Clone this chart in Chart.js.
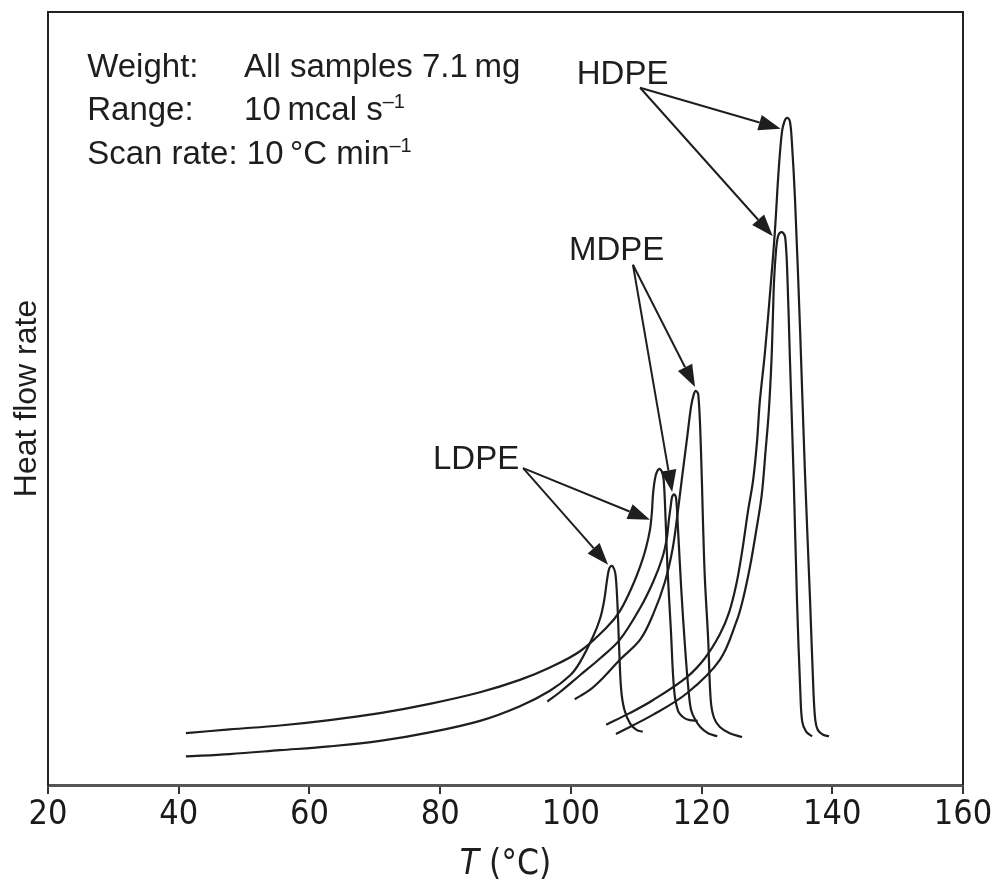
<!DOCTYPE html>
<html>
<head>
<meta charset="utf-8">
<script src="https://cdn.jsdelivr.net/npm/chart.js@4.4.1/dist/chart.umd.min.js"></script>
<style>
  html, body { margin: 0; padding: 0; background: #fff; }
</style>
</head>
<body>
<canvas id="dsc" width="995" height="884"></canvas>
<script>
// DSC melting curves of polyethylenes: T in degC, heat flow in arbitrary units (0..100 = plot height)
var xTicks = [20, 40, 60, 80, 100, 120, 140, 160];

// LDPE, lower baseline, peak near 106 C
var ldpe1T = [41.1, 47.8, 55.5, 63.1, 70.8, 78.4, 86.1, 92.2, 96.8, 99.9, 101.4, 103.4, 104.5, 105.1, 105.5, 105.8, 106.1, 106.4, 106.8, 107.1, 107.4, 107.7, 108.2, 109.1, 110.1, 111.0];
var ldpe1Y = [3.7, 4.0, 4.5, 5.0, 5.7, 6.8, 8.3, 10.2, 12.2, 14.2, 15.9, 19.2, 21.6, 23.9, 26.3, 27.8, 28.3, 28.3, 27.4, 23.9, 17.5, 12.3, 9.7, 7.9, 7.1, 6.9];

// LDPE, upper baseline, peak near 113.5 C
var ldpe2T = [41.1, 47.8, 55.5, 63.1, 70.8, 78.4, 86.1, 92.2, 96.8, 101.4, 105.5, 107.5, 109.5, 110.7, 111.5, 112.1, 112.4, 112.6, 113.0, 113.5, 113.9, 114.2, 114.5, 114.8, 115.3, 115.8, 116.4, 117.3, 118.2, 119.4];
var ldpe2Y = [6.7, 7.2, 7.7, 8.4, 9.3, 10.5, 12.0, 13.6, 15.2, 17.3, 20.4, 22.5, 25.9, 28.5, 30.7, 33.0, 35.3, 37.9, 40.1, 40.9, 40.6, 39.5, 34.3, 27.8, 20.1, 12.3, 9.6, 8.7, 8.4, 8.3];

// MDPE, peak near 115.5 C
var mdpe1T = [96.4, 98.3, 101.4, 104.5, 107.5, 110.6, 112.6, 114.0, 114.7, 115.0, 115.3, 115.5, 115.8, 116.1, 116.4, 116.9, 117.5, 118.0, 118.4, 119.0, 119.8, 121.0, 122.4];
var mdpe1Y = [10.8, 12.0, 14.2, 16.4, 18.8, 22.9, 26.3, 29.4, 32.0, 34.3, 36.2, 37.3, 37.6, 37.1, 33.0, 25.2, 17.5, 12.3, 9.7, 8.5, 7.5, 6.7, 6.3];

// MDPE, peak near 119 C
var mdpe2T = [100.6, 102.9, 105.2, 107.5, 110.6, 112.6, 114.4, 115.6, 116.4, 117.0, 117.8, 118.4, 118.8, 119.1, 119.5, 119.9, 120.2, 120.5, 121.0, 121.4, 121.9, 122.8, 124.3, 126.2];
var mdpe2Y = [11.1, 12.3, 14.1, 16.2, 18.8, 22.1, 26.3, 30.7, 35.6, 39.7, 45.0, 49.0, 50.5, 51.0, 50.5, 43.5, 34.5, 26.8, 19.0, 11.0, 8.7, 7.5, 6.7, 6.2];

// HDPE, lower peak near 132 C
var hdpe1T = [106.9, 112.6, 117.8, 122.8, 125.4, 126.3, 127.4, 128.3, 129.2, 129.8, 130.3, 130.7, 130.9, 131.1, 131.4, 131.7, 132.1, 132.5, 132.8, 133.1, 133.5, 134.1, 134.6, 135.1, 135.4, 136.0, 136.9];
var hdpe1Y = [6.6, 9.1, 11.9, 16.2, 21.3, 23.9, 28.2, 32.6, 37.5, 43.3, 48.5, 55.0, 60.2, 65.4, 69.2, 71.0, 71.5, 71.4, 70.8, 66.6, 55.6, 39.5, 23.9, 12.3, 8.2, 6.9, 6.3];

// HDPE, tall peak near 133 C
var hdpe2T = [105.4, 109.0, 112.6, 117.8, 120.5, 122.8, 124.2, 125.3, 126.2, 127.1, 127.9, 128.5, 128.9, 129.7, 130.6, 131.2, 131.8, 132.3, 132.7, 133.1, 133.5, 133.8, 134.3, 135.1, 135.8, 136.6, 137.1, 137.4, 137.8, 138.6, 139.5];
var hdpe2Y = [7.8, 9.3, 11.0, 14.0, 16.4, 19.5, 22.3, 25.9, 30.2, 35.4, 39.5, 44.6, 49.5, 56.0, 64.9, 71.4, 79.6, 84.5, 85.9, 86.3, 85.9, 83.4, 75.7, 58.2, 40.8, 23.9, 12.5, 8.4, 7.1, 6.5, 6.3];

// labels and arrows, in data units (T, heat flow)
var polyLabels = [
    { text: 'HDPE', x: 100.9, y: 90.7 },
    { text: 'MDPE', x: 99.7, y: 67.9 },
    { text: 'LDPE', x: 78.9, y: 40.9 }
];
var arrows = [
    { from: [110.6, 90.2], to: [132.1, 84.9] },
    { from: [110.6, 90.2], to: [130.9, 71.0] },
    { from: [109.5, 67.3], to: [119.0, 51.5] },
    { from: [109.5, 67.3], to: [115.5, 37.9] },
    { from: [92.7, 41.0], to: [112.1, 34.3] },
    { from: [92.7, 41.0], to: [105.7, 28.5] }
];
// run conditions (left edge T, baseline heat flow)
var infoLines = [
    { x: 26.0, y: 91.6, parts: [{ t: 'Weight:' }] },
    { x: 50.0, y: 91.6, parts: [{ t: 'All samples 7.1\u2009mg' }] },
    { x: 26.0, y: 86.0, parts: [{ t: 'Range:' }] },
    { x: 50.0, y: 86.0, parts: [{ t: '10\u2009mcal s' }, { t: '\u20131', sup: true }] },
    { x: 26.0, y: 80.3, parts: [{ t: 'Scan rate: 10\u2009\u00b0C min' }, { t: '\u20131', sup: true }] }
];

var textFont = "'Liberation Sans', Arial, sans-serif";
var narrowFont = "'DejaVu Sans Condensed', 'Liberation Sans', sans-serif";
var ink = '#1e1e1e';

function pts(xs, ys) {
    return xs.map(function(v, i) { return { x: v, y: ys[i] }; });
}

function curve(xs, ys) {
    return {
        data: pts(xs, ys),
        borderColor: ink,
        borderWidth: 2.2,
        pointRadius: 0,
        fill: false,
        tension: 0.35
    };
}

function drawRich(ctx, x, y, parts, size, family) {
    parts.forEach(function(p) {
        var fs = p.sup ? Math.round(size * 0.62) : size;
        ctx.font = (p.italic ? 'italic ' : '') + fs + 'px ' + (family || textFont);
        ctx.fillText(p.t, x, p.sup ? y - size * 0.36 : y);
        x += ctx.measureText(p.t).width;
    });
}

function textWidth(ctx, parts, size, family) {
    var w = 0;
    parts.forEach(function(p) {
        var fs = p.sup ? Math.round(size * 0.62) : size;
        ctx.font = (p.italic ? 'italic ' : '') + fs + 'px ' + (family || textFont);
        w += ctx.measureText(p.t).width;
    });
    return w;
}

function drawArrow(ctx, x0, y0, x1, y1) {
    var ang = Math.atan2(y1 - y0, x1 - x0);
    var len = 22, half = 8;
    var bx = x1 - len * Math.cos(ang), by = y1 - len * Math.sin(ang);
    ctx.beginPath();
    ctx.moveTo(x0, y0);
    ctx.lineTo(bx, by);
    ctx.stroke();
    ctx.beginPath();
    ctx.moveTo(x1, y1);
    ctx.lineTo(bx + half * Math.sin(ang), by - half * Math.cos(ang));
    ctx.lineTo(bx - half * Math.sin(ang), by + half * Math.cos(ang));
    ctx.closePath();
    ctx.fill();
}

var notesPlugin = {
    id: 'notes',
    afterDraw: function(chart) {
        var ctx = chart.ctx, sx = chart.scales.x, sy = chart.scales.y, a = chart.chartArea;
        ctx.save();
        // box: top and right sides
        ctx.strokeStyle = '#222';
        ctx.lineWidth = 2;
        ctx.beginPath();
        ctx.moveTo(a.left, a.top);
        ctx.lineTo(a.right, a.top);
        ctx.lineTo(a.right, a.bottom);
        ctx.stroke();

        ctx.fillStyle = ink;
        ctx.textBaseline = 'alphabetic';
        ctx.textAlign = 'left';
        infoLines.forEach(function(l) {
            drawRich(ctx, sx.getPixelForValue(l.x), sy.getPixelForValue(l.y), l.parts, 33);
        });
        polyLabels.forEach(function(l) {
            drawRich(ctx, sx.getPixelForValue(l.x), sy.getPixelForValue(l.y), [{ t: l.text }], 33);
        });

        ctx.lineWidth = 2;
        ctx.strokeStyle = ink;
        arrows.forEach(function(r) {
            drawArrow(ctx, sx.getPixelForValue(r.from[0]), sy.getPixelForValue(r.from[1]),
                sx.getPixelForValue(r.to[0]), sy.getPixelForValue(r.to[1]));
        });

        // x axis title with italic T
        var title = [{ t: 'T', italic: true }, { t: ' (\u00b0C)' }];
        var w = textWidth(ctx, title, 35, narrowFont);
        drawRich(ctx, (a.left + a.right) / 2 - w / 2, a.bottom + 89, title, 35, narrowFont);
        ctx.restore();
    }
};

new Chart(document.getElementById('dsc'), {
    type: 'line',
    data: {
        datasets: [
            curve(ldpe1T, ldpe1Y),
            curve(ldpe2T, ldpe2Y),
            curve(mdpe1T, mdpe1Y),
            curve(mdpe2T, mdpe2Y),
            curve(hdpe1T, hdpe1Y),
            curve(hdpe2T, hdpe2Y)
        ]
    },
    options: {
        responsive: false,
        animation: false,
        layout: { padding: { top: 12, right: 32, left: 0, bottom: 0 } },
        plugins: {
            legend: { display: false },
            tooltip: { enabled: false }
        },
        scales: {
            x: {
                type: 'linear',
                min: 20,
                max: 160,
                afterBuildTicks: function(s) { s.ticks = xTicks.map(function(v) { return { value: v }; }); },
                afterFit: function(s) { s.height = 99; },
                grid: { display: true, drawOnChartArea: false, drawTicks: true, tickLength: 9, color: '#333', lineWidth: 2 },
                border: { display: true, color: '#555', width: 3 },
                ticks: { color: '#1a1a1a', font: { family: narrowFont, size: 34 }, padding: 1, maxRotation: 0 }
            },
            y: {
                type: 'linear',
                min: 0,
                max: 100,
                afterFit: function(s) { s.width = 48; },
                grid: { display: false },
                border: { display: true, color: '#222', width: 2 },
                ticks: { display: false },
                title: {
                    display: true,
                    text: 'Heat flow rate',
                    color: ink,
                    font: { family: textFont, size: 32 },
                    padding: { top: 8, bottom: 0 }
                }
            }
        }
    },
    plugins: [notesPlugin]
});
</script>
</body>
</html>
